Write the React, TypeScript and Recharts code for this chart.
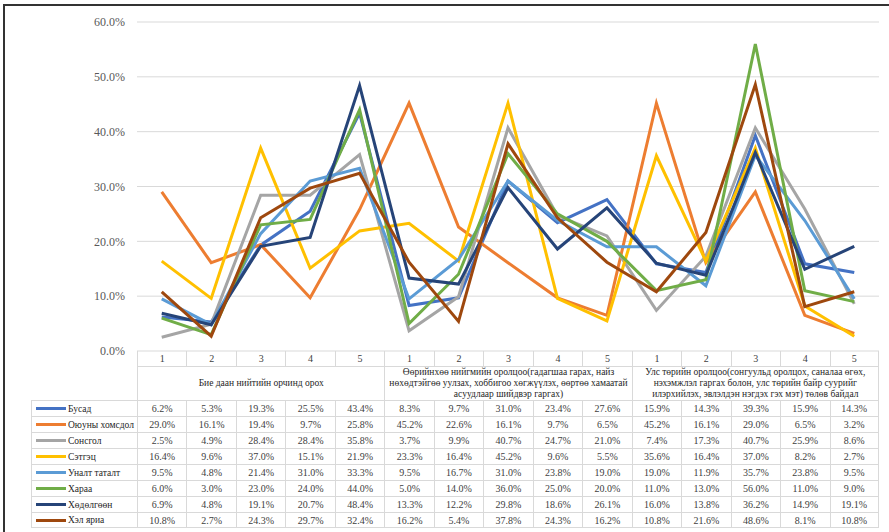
import React from 'react';
import { LineChart, Line, XAxis, YAxis, CartesianGrid } from 'recharts';

const pointLabels = ['1', '2', '3', '4', '5', '1', '2', '3', '4', '5', '1', '2', '3', '4', '5'];
const groupLabels = [
  ['Бие даан нийтийн орчинд орох'],
  [
    'Өөрийнхөө нийгмийн оролцоо(гадагшаа гарах, найз',
    'нөхөдтэйгөө уулзах, хоббигоо хөгжүүлэх, өөртөө хамаатай',
    'асуудлаар шийдвэр гаргах)',
  ],
  [
    'Улс төрийн оролцоо(сонгуульд оролцох, саналаа өгөх,',
    'нэхэмжлэл гаргах болон, улс төрийн байр суурийг',
    'илэрхийлэх, эвлэлдэн нэгдэх гэх мэт) төлөв байдал',
  ],
];

const seriesNames = ['Бусад', 'Оюуны хомсдол', 'Сонсгол', 'Сэтгэц', 'Уналт таталт', 'Хараа', 'Хөдөлгөөн', 'Хэл яриа'];
const seriesColors = ['#4472C4', '#ED7D31', '#A5A5A5', '#FFC000', '#5B9BD5', '#70AD47', '#264478', '#9E480E'];

const busad = [6.2, 5.3, 19.3, 25.5, 43.4, 8.3, 9.7, 31.0, 23.4, 27.6, 15.9, 14.3, 39.3, 15.9, 14.3];
const oyuny = [29.0, 16.1, 19.4, 9.7, 25.8, 45.2, 22.6, 16.1, 9.7, 6.5, 45.2, 16.1, 29.0, 6.5, 3.2];
const sonsgol = [2.5, 4.9, 28.4, 28.4, 35.8, 3.7, 9.9, 40.7, 24.7, 21.0, 7.4, 17.3, 40.7, 25.9, 8.6];
const setgets = [16.4, 9.6, 37.0, 15.1, 21.9, 23.3, 16.4, 45.2, 9.6, 5.5, 35.6, 16.4, 37.0, 8.2, 2.7];
const unalt = [9.5, 4.8, 21.4, 31.0, 33.3, 9.5, 16.7, 31.0, 23.8, 19.0, 19.0, 11.9, 35.7, 23.8, 9.5];
const haraa = [6.0, 3.0, 23.0, 24.0, 44.0, 5.0, 14.0, 36.0, 25.0, 20.0, 11.0, 13.0, 56.0, 11.0, 9.0];
const hudulguun = [6.9, 4.8, 19.1, 20.7, 48.4, 13.3, 12.2, 29.8, 18.6, 26.1, 16.0, 13.8, 36.2, 14.9, 19.1];
const helYaria = [10.8, 2.7, 24.3, 29.7, 32.4, 16.2, 5.4, 37.8, 24.3, 16.2, 10.8, 21.6, 48.6, 8.1, 10.8];

const seriesValues = [busad, oyuny, sonsgol, setgets, unalt, haraa, hudulguun, helYaria];
const yTicks = [0, 10, 20, 30, 40, 50, 60];

const chartData = pointLabels.map((p, i) => {
  const row: Record<string, any> = { key: `g${Math.floor(i / 5)}-${p}` };
  seriesValues.forEach((vals, s) => {
    row[`s${s}`] = vals[i];
  });
  return row;
});

const W = 889;
const H = 532;
const PLOT_L = 137;
const PLOT_R = 879;
const PLOT_T = 22;
const PLOT_B = 351;
const YAXIS_W = 60;
const COLW = (PLOT_R - PLOT_L) / pointLabels.length;
const LEG_L = 31;
const NUM_ROW_H = 15;
const GROUP_ROW_B = 400;
const ROW_H = 16;
const GRID = '#d9d9d9';
const FONT = '"Times New Roman", "Liberation Serif", "DejaVu Serif", serif';

const fmt = (v: number) => `${v.toFixed(1)}%`;

function Table() {
  const cells: React.ReactNode[] = [];
  pointLabels.forEach((p, i) => {
    cells.push(
      <div
        key={`n${i}`}
        style={{
          position: 'absolute',
          left: PLOT_L + i * COLW,
          top: PLOT_B,
          width: COLW,
          height: NUM_ROW_H,
          borderLeft: `1px solid ${GRID}`,
          borderRight: i === pointLabels.length - 1 ? `1px solid ${GRID}` : undefined,
          boxSizing: 'border-box',
          textAlign: 'center',
          fontSize: 10,
          lineHeight: `${NUM_ROW_H}px`,
          color: '#404040',
        }}
      >
        {p}
      </div>
    );
  });
  groupLabels.forEach((lines, g) => {
    cells.push(
      <div
        key={`g${g}`}
        style={{
          position: 'absolute',
          left: PLOT_L + g * 5 * COLW,
          top: PLOT_B + NUM_ROW_H,
          width: 5 * COLW,
          height: GROUP_ROW_B - PLOT_B - NUM_ROW_H,
          borderLeft: `1px solid ${GRID}`,
          borderRight: g === 2 ? `1px solid ${GRID}` : undefined,
          borderTop: `1px solid ${GRID}`,
          boxSizing: 'border-box',
          display: 'flex',
          flexDirection: 'column',
          justifyContent: 'center',
          alignItems: 'center',
          fontSize: 9.5,
          lineHeight: '11px',
          color: '#262626',
          whiteSpace: 'nowrap',
        }}
      >
        {lines.map((l, k) => (
          <div key={k}>{l}</div>
        ))}
      </div>
    );
  });
  seriesNames.forEach((name, s) => {
    const top = GROUP_ROW_B + s * ROW_H;
    cells.push(
      <div
        key={`l${s}`}
        style={{
          position: 'absolute',
          left: LEG_L,
          top,
          width: PLOT_L - LEG_L,
          height: ROW_H,
          borderLeft: `1px solid ${GRID}`,
          borderTop: `1px solid ${GRID}`,
          borderBottom: s === seriesNames.length - 1 ? `1px solid ${GRID}` : undefined,
          boxSizing: 'border-box',
          display: 'flex',
          alignItems: 'center',
          fontSize: 9.5,
          color: '#262626',
          whiteSpace: 'nowrap',
          overflow: 'hidden',
        }}
      >
        <span
          style={{
            display: 'inline-block',
            flex: '0 0 auto',
            width: 30,
            height: 3,
            background: seriesColors[s],
            marginLeft: 4,
            marginRight: 2,
          }}
        />
        {name}
      </div>
    );
    seriesValues[s].forEach((v, i) => {
      cells.push(
        <div
          key={`c${s}-${i}`}
          style={{
            position: 'absolute',
            left: PLOT_L + i * COLW,
            top,
            width: COLW,
            height: ROW_H,
            borderLeft: `1px solid ${GRID}`,
            borderTop: `1px solid ${GRID}`,
            borderRight: i === pointLabels.length - 1 ? `1px solid ${GRID}` : undefined,
            borderBottom: s === seriesNames.length - 1 ? `1px solid ${GRID}` : undefined,
            boxSizing: 'border-box',
            textAlign: 'center',
            fontSize: 10,
            lineHeight: `${ROW_H - 1}px`,
            color: '#404040',
          }}
        >
          {fmt(v)}
        </div>
      );
    });
  });
  return <>{cells}</>;
}

export default function App() {
  return (
    <div
      style={{
        position: 'absolute',
        left: 0,
        top: 0,
        width: W,
        height: H,
        background: '#fff',
        overflow: 'hidden',
        fontFamily: FONT,
      }}
    >
      <div
        style={{
          position: 'absolute',
          left: 3,
          top: 4,
          width: W + 10,
          height: H + 10,
          borderLeft: '2px solid #333',
          borderTop: '2px solid #333',
        }}
      />
      <div style={{ position: 'absolute', left: 0, top: 0 }}>
        <LineChart
          width={W}
          height={H}
          data={chartData}
          style={{ fontFamily: FONT }}
          margin={{ top: PLOT_T, right: W - PLOT_R, bottom: H - PLOT_B, left: PLOT_L - YAXIS_W }}
        >
          <CartesianGrid horizontal vertical={false} stroke={GRID} />
          <XAxis dataKey="key" hide padding={{ left: COLW / 2, right: COLW / 2 }} />
          <YAxis
            width={YAXIS_W}
            domain={[0, 60]}
            ticks={yTicks}
            tickFormatter={fmt}
            axisLine={false}
            tickLine={false}
            tickMargin={6}
            tick={{ fontSize: 12, fill: '#595959', fontFamily: FONT }}
          />
          {seriesNames.map((name, s) => (
            <Line
              key={name}
              type="linear"
              dataKey={`s${s}`}
              name={name}
              stroke={seriesColors[s]}
              strokeWidth={3}
              dot={false}
              activeDot={false}
              isAnimationActive={false}
            />
          ))}
        </LineChart>
      </div>
      <div style={{ position: 'absolute', left: 0, top: 0, fontFamily: FONT }}>
        <Table />
      </div>
    </div>
  );
}
